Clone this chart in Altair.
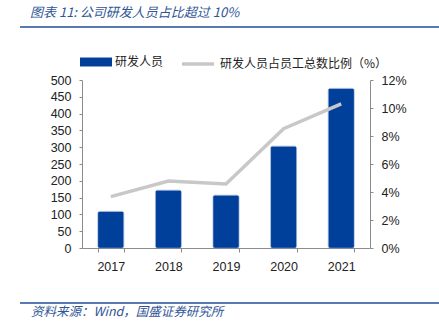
import altair as alt
import pandas as pd

years = ["2017", "2018", "2019", "2020", "2021"]
staff = [109, 172, 157, 303, 475]
ratio = [0.0367, 0.0479, 0.0457, 0.0852, 0.103]

bar_name = "研发人员"
line_name = "研发人员占员工总数比例（%）"
title_text = "图表 11:  公司研发人员占比超过 10%"
source_text = "资料来源：Wind，国盛证券研究所"

df = pd.DataFrame({"year": years, "staff": staff, "ratio": ratio,
                   "s1": [bar_name] * 5, "s2": [line_name] * 5})

BLUE = "#00409A"
GRAY = "#C8C8C8"
AX = "#8C8C8C"
FONT = "Liberation Sans"
CJK = "Noto Sans CJK SC"

x = alt.X("year:N", title=None, sort=years,
          scale=alt.Scale(paddingInner=0.55, paddingOuter=0.275),
          axis=alt.Axis(labelAngle=0, labelFont=FONT, labelFontSize=12.5,
                        labelColor="#222", labelPadding=8, tickBand="extent",
                        tickSize=4, tickColor=AX, domainColor=AX))

bars = alt.Chart(df).mark_bar(cornerRadius=2, stroke="#5B7FC0", strokeWidth=0.5).encode(
    x=x,
    y=alt.Y("staff:Q", title=None,
            scale=alt.Scale(domain=[0, 500], nice=False),
            axis=alt.Axis(values=list(range(0, 501, 50)), grid=False,
                          labelFont=FONT, labelFontSize=12.5, labelColor="#222",
                          labelPadding=8, tickSize=3, tickColor=AX, domainColor=AX)),
    fill=alt.Fill("s1:N", title=None,
                  scale=alt.Scale(domain=[bar_name], range=[BLUE]),
                  legend=alt.Legend(orient="none", legendX=-2, legendY=-34,
                                    symbolType="M-1,-0.28H1V0.28H-1Z",
                                    symbolSize=1024, symbolStrokeWidth=0,
                                    labelFont=CJK, labelFontSize=12, labelColor="#222",
                                    labelOffset=3, labelLimit=0, padding=0)),
)

line = alt.Chart(df).mark_line(strokeWidth=3.5, strokeCap="butt").encode(
    x=alt.X("year:N", sort=years),
    y=alt.Y("ratio:Q", title=None,
            scale=alt.Scale(domain=[0, 0.12], nice=False),
            axis=alt.Axis(orient="right", values=[0, 0.02, 0.04, 0.06, 0.08, 0.10, 0.12],
                          format=".0%", grid=False, labelFont=FONT, labelFontSize=12.5,
                          labelColor="#222", labelPadding=8, tickSize=3,
                          tickColor=AX, domainColor=AX)),
    stroke=alt.Stroke("s2:N", title=None,
                      scale=alt.Scale(domain=[line_name], range=[GRAY]),
                      legend=alt.Legend(orient="none", legendX=98, legendY=-34,
                                        symbolType="stroke", symbolSize=1024,
                                        symbolStrokeWidth=3.5,
                                        labelFont=CJK, labelFontSize=12, labelColor="#222",
                                        labelOffset=4, labelLimit=0, padding=0)),
)

one = pd.DataFrame({"t": [title_text], "s": [source_text]})

title = alt.Chart(one).mark_text(align="left", baseline="middle", font=CJK,
                                 fontSize=13, fontStyle="italic", color="#2F5597").encode(
    text="t:N", x=alt.value(-52), y=alt.value(-67))
source = alt.Chart(one).mark_text(align="left", baseline="middle", font=CJK,
                                  fontSize=12.5, fontStyle="italic", color="#2F5597").encode(
    text="s:N", x=alt.value(-51), y=alt.value(232))
top_rule = alt.Chart(one).mark_rule(color="#1F4E9A", strokeWidth=1.5).encode(
    x=alt.value(-62), x2=alt.value(357), y=alt.value(-53))
bot_rule = alt.Chart(one).mark_rule(color="#1F4E9A", strokeWidth=1.5).encode(
    x=alt.value(-62), x2=alt.value(357), y=alt.value(223))

chart = alt.layer(bars, line, title, source, top_rule, bot_rule).resolve_scale(
    y="independent", fill="independent", stroke="independent"
).properties(
    width=288, height=168,
    autosize=alt.AutoSizeParams(type="none"),
    padding={"left": 82, "top": 80, "right": 69, "bottom": 85},
    background="white",
).configure_view(stroke=None)

chart.save("out.html", embed_options={"renderer": "svg", "actions": False})
